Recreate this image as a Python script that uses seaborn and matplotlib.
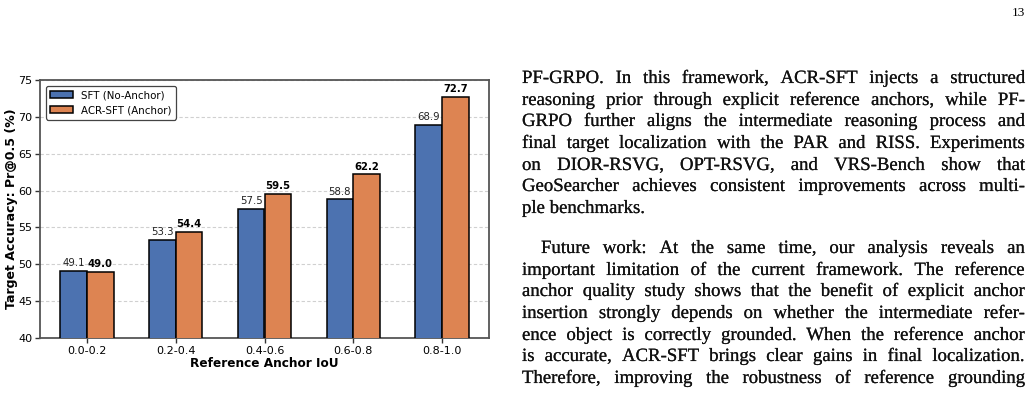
import matplotlib
matplotlib.use("Agg")
import numpy as np
import pandas as pd
import seaborn as sns
import matplotlib.pyplot as plt
import matplotlib.patheffects as pe
from matplotlib.transforms import IdentityTransform

# chart data
bins = ['0.0-0.2', '0.2-0.4', '0.4-0.6', '0.6-0.8', '0.8-1.0']
sft_no_anchor = [49.1, 53.3, 57.5, 58.8, 68.9]
acr_sft_anchor = [49.0, 54.4, 59.5, 62.2, 72.7]
series_names = ['SFT (No-Anchor)', 'ACR-SFT (Anchor)']
colors = ['#4C72B0', '#DD8452']
y_ticks = [40, 45, 50, 55, 60, 65, 70, 75]

# page text next to the figure
para1 = [
    "PF-GRPO. In this framework, ACR-SFT injects a structured",
    "reasoning prior through explicit reference anchors, while PF-",
    "GRPO further aligns the intermediate reasoning process and",
    "final target localization with the PAR and RISS. Experiments",
    "on DIOR-RSVG, OPT-RSVG, and VRS-Bench show that",
    "GeoSearcher achieves consistent improvements across multi-",
    "ple benchmarks.",
]
para2 = [
    "Future work: At the same time, our analysis reveals an",
    "important limitation of the current framework. The reference",
    "anchor quality study shows that the benefit of explicit anchor",
    "insertion strongly depends on whether the intermediate refer-",
    "ence object is correctly grounded. When the reference anchor",
    "is accurate, ACR-SFT brings clear gains in final localization.",
    "Therefore, improving the robustness of reference grounding",
]
page_no = "13"

df = pd.DataFrame({
    'IoU': bins * 2,
    'Acc': sft_no_anchor + acr_sft_anchor,
    'Model': [series_names[0]] * len(bins) + [series_names[1]] * len(bins),
})

W, H = 1032, 404
fig = plt.figure(figsize=(W / 100, H / 100), dpi=100)
fig.patch.set_facecolor('white')

ax = fig.add_axes([40 / W, (H - 338) / H, 449 / W, 258 / H])
sns.barplot(data=df, x='IoU', y='Acc', hue='Model', order=bins,
            hue_order=series_names, palette=colors, saturation=1, width=0.6, gap=0,
            edgecolor='black', linewidth=1.1, errorbar=None, ax=ax, zorder=3)

ax.bar_label(ax.containers[0], fmt='%.1f', padding=2, fontsize=7.3, color='#222222')
ax.bar_label(ax.containers[1], fmt='%.1f', padding=2, fontsize=7.3, fontweight='bold', color='black')

ax.set_ylim(40, 75)
ax.set_xlim(-0.53, 4.53)
ax.set_yticks(y_ticks)
ax.yaxis.grid(True, linestyle=(0, (3, 2)), color='#d0d0d0', linewidth=0.8, zorder=0)
ax.set_axisbelow(True)
for s in ax.spines.values():
    s.set_color('#555555')
    s.set_linewidth(1.3)
ax.tick_params(axis='both', labelsize=8, color='#333333', length=3.5, width=1, pad=2)
ax.set_xlabel('Reference Anchor IoU', fontsize=8.7, fontweight='bold', labelpad=1)
ax.set_ylabel('Target Accuracy: Pr@0.5 (%)', fontsize=9, fontweight='bold', labelpad=0)
leg = ax.legend(loc='upper left', fontsize=7.4, frameon=True, framealpha=1,
                edgecolor='#444444', borderpad=0.4, handlelength=2.2, handletextpad=0.8,
                borderaxespad=0.6)
leg.get_frame().set_linewidth(0.9)

# justified body text
fs = 13.5
renderer = fig.canvas.get_renderer()
x_left, x_right = 522, 1025
ink = [pe.withStroke(linewidth=0.12, foreground='#111111')]


def put_line(line, y_base, indent=0, justify=True):
    words = line.split()
    objs = [fig.text(0, 0, w, transform=IdentityTransform(), fontsize=fs,
                     family='Liberation Serif', va='baseline', ha='left', color='#111111',
                     path_effects=ink)
            for w in words]
    widths = [o.get_window_extent(renderer).width for o in objs]
    start = x_left + indent
    if justify and len(words) > 1:
        gap = (x_right - start - sum(widths)) / (len(words) - 1)
    else:
        gap = fs * 100 / 72 * 0.25
    x = start
    for o, w in zip(objs, widths):
        o.set_position((x, round(H - y_base)))
        x += w + gap


step = 21.65
base1 = 83
for i, line in enumerate(para1):
    put_line(line, base1 + i * step, justify=(i < len(para1) - 1))
base2 = 253
for i, line in enumerate(para2):
    put_line(line, base2 + i * step, indent=19 if i == 0 else 0, justify=True)

fig.text(1025, H - 16, page_no, transform=IdentityTransform(), fontsize=9.5,
         family='Liberation Serif', ha='right', va='baseline')

fig.savefig('out.png', dpi=100, facecolor='white')
